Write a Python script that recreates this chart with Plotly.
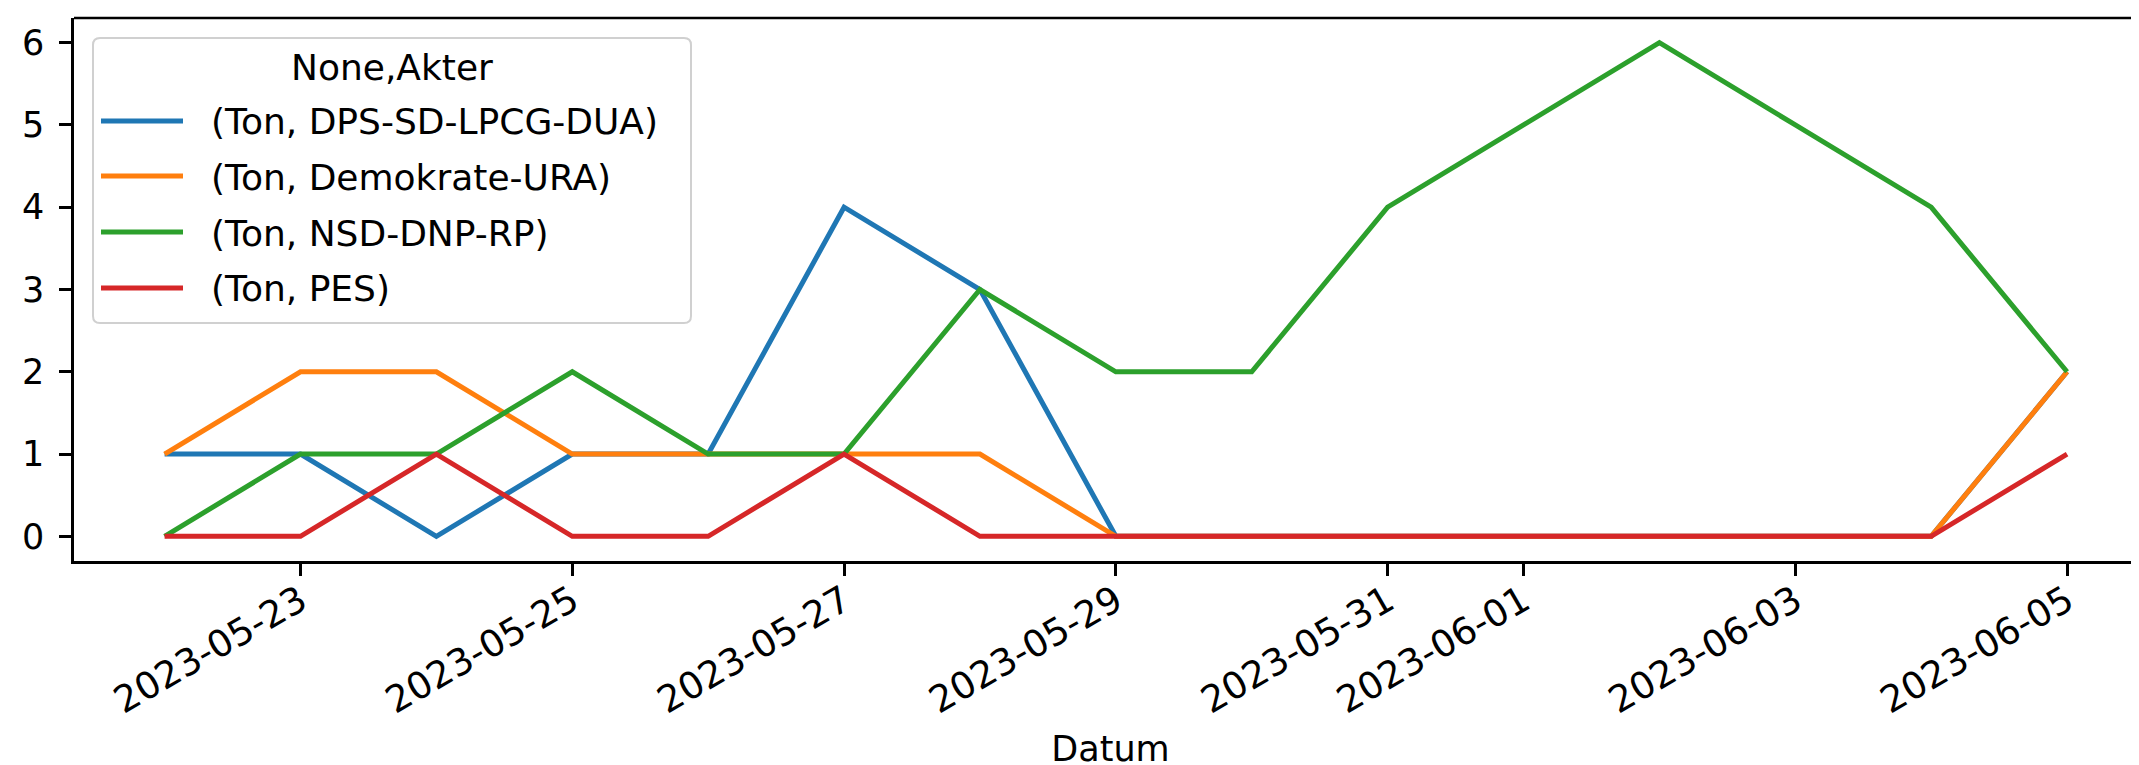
import plotly.graph_objects as go

dates = ["2023-05-22", "2023-05-23", "2023-05-24", "2023-05-25", "2023-05-26",
         "2023-05-27", "2023-05-28", "2023-05-29", "2023-05-30", "2023-05-31",
         "2023-06-01", "2023-06-02", "2023-06-03", "2023-06-04", "2023-06-05"]

dps = [1, 1, 0, 1, 1, 4, 3, 0, 0, 0, 0, 0, 0, 0, 2]
demokrate = [1, 2, 2, 1, 1, 1, 1, 0, 0, 0, 0, 0, 0, 0, 2]
nsd = [0, 1, 1, 2, 1, 1, 3, 2, 2, 4, 5, 6, 5, 4, 2]
pes = [0, 0, 1, 0, 0, 1, 0, 0, 0, 0, 0, 0, 0, 0, 1]

series_names = ["(Ton, DPS-SD-LPCG-DUA)", "(Ton, Demokrate-URA)",
                "(Ton, NSD-DNP-RP)", "(Ton, PES)"]
series_values = [dps, demokrate, nsd, pes]
colors = ["#1f77b4", "#ff7f0e", "#2ca02c", "#d62728"]
legend_title = "None,Akter"

tick_vals = ["2023-05-23", "2023-05-25", "2023-05-27", "2023-05-29",
             "2023-05-31", "2023-06-01", "2023-06-03", "2023-06-05"]
y_ticks = [0, 1, 2, 3, 4, 5, 6]

FONT = "DejaVu Sans"
FS = 35
XFS = 37
LFS = 36

W, H = 2139, 765
ML, MR, MT, MB = 66, 0, 10, 212
PW, PH = W - ML - MR, H - MT - MB


def px(x):
    return (x - ML) / PW


def py(y):
    return (H - MB - y) / PH


fig = go.Figure()
for name, vals, col in zip(series_names, series_values, colors):
    fig.add_trace(go.Scatter(x=dates, y=vals, mode="lines", name=name,
                             showlegend=False,
                             line=dict(color=col, width=5)))

# legend box (matplotlib style, rounded corners)
L, T, R, B, r = 85, 30, 683, 315, 7
path = (f"M{px(L + r)},{py(T)} L{px(R - r)},{py(T)} Q{px(R)},{py(T)} {px(R)},{py(T + r)} "
        f"L{px(R)},{py(B - r)} Q{px(R)},{py(B)} {px(R - r)},{py(B)} "
        f"L{px(L + r)},{py(B)} Q{px(L)},{py(B)} {px(L)},{py(B - r)} "
        f"L{px(L)},{py(T + r)} Q{px(L)},{py(T)} {px(L + r)},{py(T)} Z")
shapes = [
    dict(type="line", xref="paper", yref="paper", x0=0, x1=1, y0=1, y1=1,
         line=dict(color="black", width=2.5)),
    dict(type="path", xref="paper", yref="paper", path=path, layer="above",
         fillcolor="rgba(255,255,255,0.8)", line=dict(color="#d0d0d0", width=2)),
]
annotations = [
    dict(text=legend_title, xref="paper", yref="paper", x=px((L + R) / 2), y=py(60),
         xanchor="center", yanchor="middle", showarrow=False,
         font=dict(family=FONT, size=LFS, color="black")),
]
row_y = [113, 168, 224, 280]
for name, col, yy in zip(series_names, colors, row_y):
    shapes.append(dict(type="line", xref="paper", yref="paper", layer="above",
                       x0=px(93), x1=px(175), y0=py(yy), y1=py(yy),
                       line=dict(color=col, width=5)))
    annotations.append(dict(text=name, xref="paper", yref="paper", x=px(201), y=py(yy + 1),
                            xanchor="left", yanchor="middle", showarrow=False,
                            font=dict(family=FONT, size=LFS, color="black")))

fig.update_layout(
    width=W, height=H,
    margin=dict(l=ML, r=MR, t=MT, b=MB),
    paper_bgcolor="white", plot_bgcolor="white",
    font=dict(family=FONT, size=FS, color="black"),
    showlegend=False,
    xaxis=dict(
        type="date",
        range=["2023-05-21 08:00", "2023-06-05 14:07"],
        tickvals=tick_vals, ticktext=tick_vals,
        tickangle=-30, ticks="outside", ticklen=12, tickwidth=2.5,
        tickcolor="black", showline=True, linecolor="black", linewidth=2.5,
        showgrid=False, zeroline=False,
        title=dict(text="Datum", font=dict(size=FS), standoff=16),
        tickfont=dict(size=XFS),
        ticklabelstandoff=-11,
    ),
    yaxis=dict(
        range=[-0.3, 6.3], tickvals=y_ticks,
        ticks="outside", ticklen=12, tickwidth=2.5, tickcolor="black",
        showline=True, linecolor="black", linewidth=2.5,
        showgrid=False, zeroline=False, tickfont=dict(size=FS),
        ticklabelstandoff=8,
    ),
    shapes=shapes,
    annotations=annotations,
)

fig.write_html("out.html")
